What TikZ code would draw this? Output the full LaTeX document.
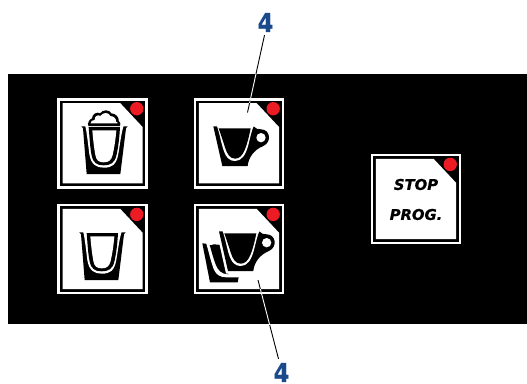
\documentclass[tikz,border=0pt]{standalone}
\usepackage{fontspec}
\newfontfamily\labelfont{DejaVu Sans Bold}[FakeStretch=0.88,FakeBold=0.5]
\newfontfamily\stopfont{DejaVu Sans Bold Oblique}[FakeBold=0.8]
\definecolor{ledred}{HTML}{ED1C24}
\definecolor{calloutblue}{HTML}{1A4A8C}
\newcommand\glassglyph{%
    \fill[black] (88,112) -- (93,118) -- (104,255) -- (205,255) -- (222,118) -- (227,112) -- cycle;
    \fill[white] (99,108) .. controls (104,125) and (108,165) .. (112,195) .. controls (117,228) and (135,236) .. (155,236) .. controls (180,236) and (193,228) .. (199,195) .. controls (204,165) and (209,125) .. (216,108) -- cycle;
    \fill[black] (110,114) -- (204,114) .. controls (202,150) and (198,180) .. (193,200) .. controls (188,222) and (175,229) .. (155,229) .. controls (135,229) and (124,222) .. (119,200) .. controls (114,175) and (113,150) .. (110,114) -- cycle;
    \fill[white] (121,124) -- (193,124) .. controls (191,150) and (187,175) .. (182,198) .. controls (178,214) and (170,220) .. (155,220) .. controls (140,220) and (133,214) .. (130,198) .. controls (126,175) and (123,150) .. (121,124) -- cycle;
}
\newcommand\cupglyph{%
    \fill[black] (85,109) -- (112,228) -- (188,228) .. controls (190,205) and (205,180) .. (235,168) .. controls (262,155) and (255,118) .. (228,118) .. controls (218,118) and (212,116) .. (207,110) -- cycle;
    \fill[white] (96,108) .. controls (102,125) and (107,150) .. (113,172) .. controls (122,205) and (135,213) .. (150,213) .. controls (170,213) and (182,195) .. (190,165) .. controls (196,140) and (200,122) .. (206,108) -- cycle;
    \fill[black] (101,115) -- (197,115) .. controls (192,140) and (187,160) .. (180,178) .. controls (172,198) and (162,206) .. (150,206) .. controls (135,206) and (126,192) .. (120,172) .. controls (113,150) and (108,135) .. (101,115) -- cycle;
    \fill[white] (228,143) circle[radius=14];
}
\tikzset{
  x=1pt,y=-1pt,
  panelfill/.style={fill=black,draw=none},
  leader/.style={line width=0.9pt},
  calloutlabel/.style={text=calloutblue,inner sep=0pt,font=\labelfont\fontsize{26}{26}\selectfont},
  stoplabel/.style={inner sep=0pt,font=\stopfont\fontsize{14.8}{15}\selectfont},
  pics/button/.style={code={
    \fill[white] (0,0) rectangle (90.5,90.5);
    \fill[black] (2.6,2.6) rectangle (87.9,87.9);
    \fill[white] (5.2,5.2) -- (63,5.2) -- (85.3,29) -- (85.3,85.3) -- (5.2,85.3) -- cycle;
    \fill[ledred] (79.5,10.7) circle[radius=6.7];
  }},
}
\begin{document}
\begin{tikzpicture}
\useasboundingbox (0,0) rectangle (527,383);
\fill[white] (0,0) rectangle (527,383);
\fill[panelfill] (8,74) rectangle (527,324);
\pic at (57.3,98) {button};
\pic at (193.7,98) {button};
\pic at (57.3,203.7) {button};
\pic at (193.7,203.7) {button};
\pic at (370.7,153.7) {button};
% milk-foam glass
\begin{scope}[shift={(52,89)},scale=1/3]
  \glassglyph
\end{scope}
\begin{scope}[shift={(50,90)},scale=1/3]
  \fill[black] (115,108) .. controls (112,98) and (118,88) .. (126,85) .. controls (126,72) and (142,64) .. (150,70) .. controls (158,58) and (178,58) .. (184,70) .. controls (198,70) and (208,84) .. (206,92) .. controls (212,96) and (212,105) .. (210,108) -- cycle;
  \fill[white] (122,100) .. controls (120,94) and (128,90) .. (134,90) .. controls (132,80) and (144,72) .. (151,78) .. controls (160,66) and (176,66) .. (181,78) .. controls (192,78) and (200,88) .. (198,95) .. controls (204,97) and (204,100) .. (202,100) -- cycle;
\end{scope}
% small glass
\begin{scope}[shift={(50,195)},scale=1/3]
  \glassglyph
\end{scope}
% cup
\begin{scope}[shift={(185,90)},scale=1/3]
  \cupglyph
\end{scope}
% double cup
\begin{scope}[shift={(185,195)},scale=1/3]
  \fill[black] (52,145) -- (75,262) -- (158,262) -- (170,200) -- (110,150) -- cycle;
  \fill[white] (63,143) .. controls (70,165) and (75,190) .. (82,210) .. controls (90,240) and (105,247) .. (125,247) -- (165,247) -- (165,200) -- (74,143) -- cycle;
  \fill[black] (74,150) -- (105,150) -- (130,238) .. controls (110,238) and (98,225) .. (92,208) .. controls (85,190) and (80,170) .. (74,150) -- cycle;
  \fill[white,draw=white,line width=5pt] (102,107) -- (129,228) -- (205,228) -- (225,170) -- (225,107) -- cycle;
  \begin{scope}[shift={(17,0)}]
    \cupglyph
  \end{scope}
\end{scope}
\node[stoplabel] (stoptext) at (416,184.5) {STOP};
\node[stoplabel] (progtext) at (416,214.5) {PROG.};
\node[calloutlabel] (topfour) at (265.5,22.5) {4};
\node[calloutlabel] (botfour) at (281.5,372.5) {4};
\coordinate (topend) at (247.5,112.5);
\coordinate (botend) at (258,280);
\draw[leader] (topfour.south) ++(-1,3) coordinate (ta) (ta) -- (topend);
\draw[leader] (botfour.north) ++(-3,-4) coordinate (ba) (ba) -- (botend);
\begin{scope}
  \clip (8,74) rectangle (527,102.5);
  \draw[leader,white] (ta) -- (topend);
\end{scope}
\begin{scope}
  \clip (8,289) rectangle (527,324);
  \draw[leader,white] (ba) -- (botend);
\end{scope}
\end{tikzpicture}
\end{document}
